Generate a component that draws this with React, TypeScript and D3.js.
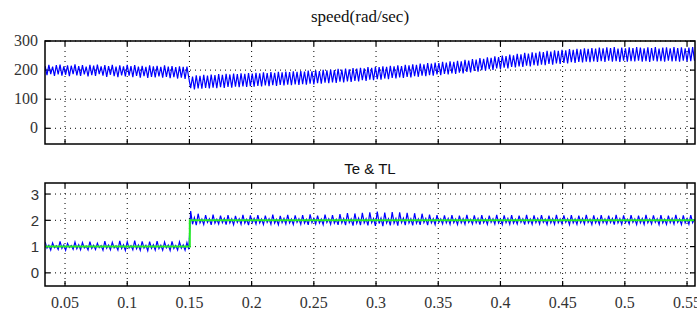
import React from 'react';
import * as d3 from 'd3';

// samples every 1.5 ms starting at t0
const t0 = 0.034;
const dt = 0.0015;

// rotor speed (rad/sec)
const speed = [
  214, 183, 218, 186, 212, 180, 217, 185, 219, 181, 213, 184, 216, 179, 215, 186, 220, 182, 214, 180,
  217, 185, 212, 178, 218, 183, 215, 180, 219, 186, 213, 181, 217, 177, 214, 184, 218, 179, 212, 176,
  216, 182, 213, 178, 218, 181, 214, 176, 217, 180, 212, 174, 215, 179, 211, 173, 216, 177, 213, 175,
  215, 178, 211, 174, 216, 177, 212, 172, 214, 176, 210, 171, 213, 174, 211, 170, 212, 173,
  138, 178, 134, 182, 137, 180, 136, 184, 139, 181, 137, 185, 140, 183, 138, 186, 141, 184, 139, 187,
  142, 185, 140, 188, 143, 186, 141, 189, 144, 187, 142, 190, 145, 188, 143, 191, 146, 189, 144, 192,
  147, 190, 145, 193, 148, 191, 146, 194, 149, 192, 147, 195, 150, 193, 148, 196, 151, 194, 149, 197,
  152, 195, 150, 198, 153, 196, 151, 199, 155, 197, 153, 201, 157, 199, 155, 202, 158, 200, 156, 204,
  160, 202, 158, 205, 161, 203, 159, 207, 163, 205, 161, 208, 165, 206, 163, 210, 167, 208, 165, 211,
  169, 210, 167, 213, 171, 211, 169, 215, 173, 213, 171, 216, 175, 214, 173, 218, 177, 216, 175, 220,
  179, 218, 177, 222, 181, 220, 179, 224, 183, 222, 181, 226, 185, 224, 183, 228, 187, 226, 185, 230,
  189, 228, 187, 232, 191, 230, 189, 235, 194, 233, 192, 238, 197, 236, 195, 241, 200, 239, 198, 244,
  203, 242, 201, 247, 206, 245, 204, 250, 208, 248, 206, 253, 211, 251, 209, 256, 213, 254, 211, 259,
  215, 257, 213, 261, 217, 259, 215, 264, 219, 262, 217, 266, 221, 264, 219, 268, 223, 266, 221, 270,
  225, 268, 223, 272, 227, 270, 225, 273, 228, 271, 226, 275, 229, 273, 227, 276, 230, 274, 228, 277,
  231, 275, 228, 278, 232, 276, 229, 279, 231, 274, 228, 277, 232, 275, 229, 278, 231, 276, 230, 279,
  232, 277, 229, 275, 231, 278, 228, 276, 232, 279, 230, 274, 231, 277, 229, 278, 232, 275, 230, 279,
  231, 276, 229, 278, 232, 275, 230, 277, 231, 279, 232,
];

// electromagnetic torque Te
const te = [
  1.18, 0.94, 1.05, 0.87, 1.14, 0.96, 1.03, 0.89, 1.2, 0.93, 1.06, 0.86, 1.12, 0.97, 1.04, 0.9, 1.17, 0.92, 1.07, 0.88,
  1.15, 0.95, 1.02, 0.87, 1.19, 0.93, 1.05, 0.89, 1.13, 0.96, 1.04, 0.86, 1.21, 0.94, 1.06, 0.88, 1.16, 0.95, 1.03, 0.87,
  1.22, 0.93, 1.07, 0.85, 1.18, 0.95, 1.04, 0.88, 1.23, 0.92, 1.06, 0.86, 1.2, 0.94, 1.05, 0.84, 1.19, 0.93, 1.07, 0.87,
  1.21, 0.92, 1.05, 0.86, 1.17, 0.95, 1.06, 0.85, 1.2, 0.93, 1.04, 0.87, 1.18, 0.94, 1.06, 0.86, 1.15, 0.9,
  2.35, 1.85, 2.1, 1.82, 2.25, 1.9, 2.05, 1.84, 2.2, 1.92, 2.06, 1.83, 2.22, 1.89, 2.04, 1.86, 2.18, 1.91, 2.07, 1.84,
  2.2, 1.9, 2.05, 1.83, 2.17, 1.92, 2.06, 1.85, 2.21, 1.89, 2.04, 1.82, 2.19, 1.91, 2.07, 1.86, 2.2, 1.9, 2.05, 1.84,
  2.18, 1.92, 2.06, 1.85, 2.22, 1.89, 2.04, 1.83, 2.17, 1.91, 2.07, 1.86, 2.21, 1.9, 2.05, 1.84, 2.19, 1.92, 2.06, 1.85,
  2.2, 1.89, 2.04, 1.83, 2.23, 1.91, 2.07, 1.86, 2.18, 1.9, 2.05, 1.84, 2.22, 1.92, 2.06, 1.85, 2.2, 1.89, 2.04, 1.83,
  2.24, 1.9, 2.07, 1.82, 2.27, 1.91, 2.05, 1.8, 2.26, 1.89, 2.08, 1.82, 2.28, 1.9, 2.06, 1.81, 2.3, 1.91, 2.07, 1.79,
  2.33, 1.88, 2.08, 1.78, 2.29, 1.9, 2.06, 1.81, 2.31, 1.89, 2.07, 1.8, 2.3, 1.91, 2.08, 1.82, 2.28, 1.9, 2.06, 1.81,
  2.27, 1.89, 2.05, 1.83, 2.25, 1.91, 2.07, 1.82, 2.22, 1.9, 2.06, 1.84, 2.2, 1.92, 2.05, 1.86, 2.19, 1.9, 2.07, 1.85,
  2.2, 1.91, 2.05, 1.84, 2.18, 1.9, 2.06, 1.85, 2.21, 1.92, 2.04, 1.86, 2.19, 1.9, 2.07, 1.84, 2.2, 1.91, 2.05, 1.85,
  2.18, 1.92, 2.06, 1.86, 2.21, 1.9, 2.05, 1.84, 2.19, 1.91, 2.07, 1.85, 2.2, 1.89, 2.04, 1.86, 2.18, 1.92, 2.06, 1.84,
  2.21, 1.9, 2.05, 1.85, 2.19, 1.91, 2.07, 1.86, 2.2, 1.92, 2.04, 1.84, 2.18, 1.9, 2.06, 1.85, 2.21, 1.91, 2.05, 1.86,
  2.19, 1.92, 2.06, 1.84, 2.2, 1.9, 2.05, 1.85, 2.18, 1.91, 2.07, 1.86, 2.21, 1.92, 2.04, 1.84, 2.19, 1.9, 2.06, 1.85,
  2.2, 1.91, 2.05, 1.86, 2.18, 1.92, 2.07, 1.84, 2.21, 1.9, 2.06, 1.85, 2.19, 1.91, 2.04, 1.86, 2.2, 1.92, 2.05, 1.84,
  2.18, 1.9, 2.07, 1.85, 2.21, 1.91, 2.05, 1.86, 2.19, 1.92, 2.06, 1.84, 2.2, 1.9, 2.04, 1.85, 2.18, 1.91, 2.07, 1.86,
  2.21, 1.92, 2.05, 1.84, 2.19, 1.9, 2.06, 1.85, 2.2, 1.91, 2.05,
];

// load torque TL (step at 0.15 s)
const tlTime = [0.034, 0.1503, 0.1503, 0.556];
const tlValue = [1, 1, 2, 2];

const xTicks = [0.05, 0.1, 0.15, 0.2, 0.25, 0.3, 0.35, 0.4, 0.45, 0.5, 0.55];
const xTickLabels = ['0.05', '0.1', '0.15', '0.2', '0.25', '0.3', '0.35', '0.4', '0.45', '0.5', '0.55'];
const speedTicks = [0, 100, 200, 300];
const torqueTicks = [0, 1, 2, 3];

const W = 697;
const H = 316;
const left = 45;
const right = 695;

const x = d3.scaleLinear().domain([0.0339, 0.5564]).range([left, right]);
const ySpeed = d3.scaleLinear().domain([-54, 300]).range([144, 41]);
const yTorque = d3.scaleLinear().domain([-0.5, 3.42]).range([286, 183]);

const tOf = (i: number) => t0 + i * dt;

const Panel = ({ y, ticks, id }: { y: d3.ScaleLinear<number, number>; ticks: number[]; id: string }) => {
  const [y0, y1] = y.range();
  return (
    <g>
      <defs>
        <clipPath id={id}>
          <rect x={left} y={y1} width={right - left} height={y0 - y1} />
        </clipPath>
      </defs>
      {xTicks.map((t) => (
        <g key={'x' + t}>
          <line x1={x(t)} x2={x(t)} y1={y1} y2={y0} stroke="#000" strokeWidth={1} strokeDasharray="1,4" />
          <line x1={x(t)} x2={x(t)} y1={y0} y2={y0 - 5} stroke="#000" strokeWidth={1.2} />
          <line x1={x(t)} x2={x(t)} y1={y1} y2={y1 + 5} stroke="#000" strokeWidth={1.2} />
        </g>
      ))}
      {ticks.map((v) => (
        <g key={'y' + v}>
          <line x1={left} x2={right} y1={y(v)} y2={y(v)} stroke="#000" strokeWidth={1} strokeDasharray="1,4" />
          <line x1={left} x2={left + 5} y1={y(v)} y2={y(v)} stroke="#000" strokeWidth={1.2} />
          <line x1={right} x2={right - 5} y1={y(v)} y2={y(v)} stroke="#000" strokeWidth={1.2} />
        </g>
      ))}
    </g>
  );
};

export default function App() {
  const speedLine = d3
    .line<number>()
    .x((_, i) => x(tOf(i)))
    .y((d) => ySpeed(d));
  const teLine = d3
    .line<number>()
    .x((_, i) => x(tOf(i)))
    .y((d) => yTorque(d));
  const tlLine = d3
    .line<number>()
    .x((_, i) => x(tlTime[i]))
    .y((d) => yTorque(d));

  const serif = 'Liberation Serif, serif';
  const sans = 'Liberation Sans, Arial, sans-serif';

  return (
    <svg width={W} height={H} style={{ position: 'absolute', left: 0, top: 0, background: '#fff' }}>
      <rect width={W} height={H} fill="#fff" />

      {/* speed panel */}
      <text x={360} y={22} textAnchor="middle" fontFamily={serif} fontSize={17} fill="#111">
        speed(rad/sec)
      </text>
      <Panel y={ySpeed} ticks={speedTicks} id="clipSpeed" />
      <path d={speedLine(speed) ?? ''} fill="none" stroke="#0000ff" strokeWidth={1.2} clipPath="url(#clipSpeed)" />
      <rect x={left} y={41} width={right - left} height={103} fill="none" stroke="#000" strokeWidth={1.5} />
      {speedTicks.map((v) => (
        <text key={v} x={38} y={ySpeed(v) + 5} textAnchor="end" fontFamily={serif} fontSize={16} fill="#333">
          {v}
        </text>
      ))}

      {/* torque panel */}
      <text x={370} y={174} textAnchor="middle" fontFamily={sans} fontSize={15} fill="#111">
        Te &amp; TL
      </text>
      <Panel y={yTorque} ticks={torqueTicks} id="clipTorque" />
      <path d={teLine(te) ?? ''} fill="none" stroke="#0000ff" strokeWidth={1.2} clipPath="url(#clipTorque)" />
      <path d={tlLine(tlValue) ?? ''} fill="none" stroke="#22ee22" strokeWidth={2} clipPath="url(#clipTorque)" />
      <rect x={left} y={183} width={right - left} height={103} fill="none" stroke="#000" strokeWidth={1.5} />
      {torqueTicks.map((v) => (
        <text key={v} x={39} y={yTorque(v) + 5.5} textAnchor="end" fontFamily={sans} fontSize={15} fill="#333">
          {v}
        </text>
      ))}
      {xTicks.map((t, i) => (
        <text key={t} x={x(t)} y={308} textAnchor="middle" fontFamily={serif} fontSize={16} fill="#333">
          {xTickLabels[i]}
        </text>
      ))}
    </svg>
  );
}
